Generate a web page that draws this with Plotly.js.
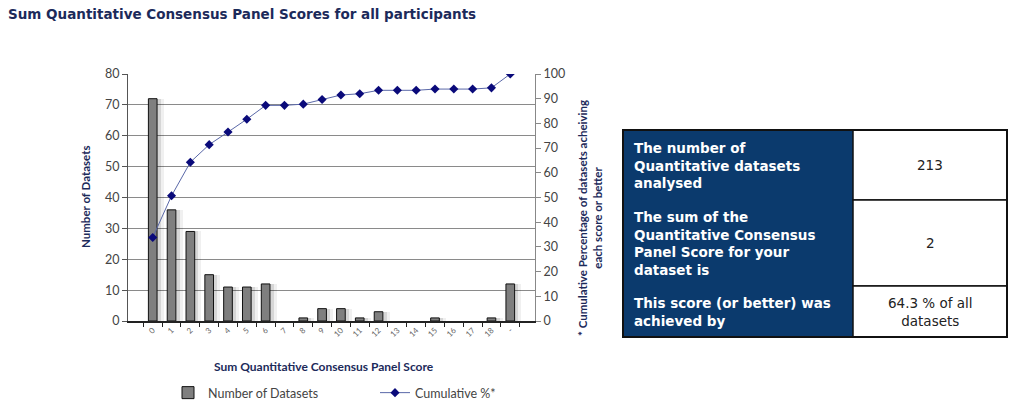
<!DOCTYPE html>
<html><head><meta charset="utf-8">
<script src="https://cdn.plot.ly/plotly-3.0.1.min.js"></script>
<style>html,body{margin:0;padding:0;background:#fff}#chart{width:1024px;height:412px}</style>
</head><body><div id="chart"></div>
<script>
// ---- data ----
const categories = ['0','1','2','3','4','5','6','7','8','9','10','11','12','13','14','15','16','17','18','-'];
const datasetCounts = [72,36,29,15,11,11,12,0,1,4,4,1,3,0,0,1,0,0,1,12];
const cumulativePct = [33.8,50.7,64.3,71.4,76.5,81.7,87.3,87.3,87.8,89.7,91.5,92.0,93.4,93.4,93.4,93.9,93.9,93.9,94.4,100];
const tableLabels = ['The number of<br>Quantitative datasets<br>analysed',
                     'The sum of the<br>Quantitative Consensus<br>Panel Score for your<br>dataset is',
                     'This score (or better) was<br>achieved by'];
const tableValues = ['213','2','64.3 % of all<br>datasets'];

// ---- geometry helpers (plot area in px) ----
const L=128, R=535, T=74, B=321;
const px = x => (x-L)/(R-L);
const py = y => (B-y)/(B-T);

const navy='#0b3a6d', titleCol='#1c2a5a';
const outlineW = datasetCounts.map(v => v > 0 ? 1 : 0);

const traces = [
  {type:'bar', x:categories, y:datasetCounts, width:0.2, offset:0.23, marker:{color:'rgba(0,0,0,0.16)', line:{width:0}}, showlegend:false, hoverinfo:'skip'},
  {type:'bar', x:categories, y:datasetCounts, width:0.16, offset:0.43, marker:{color:'rgba(0,0,0,0.06)', line:{width:0}}, showlegend:false, hoverinfo:'skip'},
  {type:'bar', name:'Number of Datasets', x:categories, y:datasetCounts, width:0.46, offset:-0.23, legend:'legend',
   marker:{color:'#7f7f7f', line:{color:'#111', width:outlineW}}},
  {type:'scatter', mode:'lines+markers', name:'Cumulative %*', x:categories, y:cumulativePct, yaxis:'y2', legend:'legend2',
   line:{color:'#5a68a8', width:1}, marker:{symbol:'diamond', size:7, color:'#0a0a7a'}}
];

const shapes = [];
const annotations = [];
// table
const tX0=623, tX1=1007, tXm=853, rows=[130,200,286,337];
shapes.push({type:'rect', xref:'paper', yref:'paper', x0:px(tX0), x1:px(tXm), y0:py(rows[3]), y1:py(rows[0]), fillcolor:navy, line:{width:0}});
for (let i=0;i<3;i++){
  shapes.push({type:'rect', xref:'paper', yref:'paper', x0:px(tXm), x1:px(tX1), y0:py(rows[i+1]), y1:py(rows[i]), fillcolor:'#fff', line:{color:'#111', width:1.5}});
  const yc = (rows[i]+rows[i+1])/2;
  annotations.push({xref:'paper', yref:'paper', x:px(tX0+9), y:py(yc), xanchor:'left', yanchor:'middle', align:'left', showarrow:false,
    text:'<b>'+tableLabels[i]+'</b>', font:{family:'DejaVu Sans', size:13.5, color:'#fff'}});
  annotations.push({xref:'paper', yref:'paper', x:px(930), y:py(yc), xanchor:'center', yanchor:'middle', align:'center', showarrow:false,
    text:tableValues[i], font:{family:'DejaVu Sans', size:13.5, color:'#222'}});
}
shapes.push({type:'rect', xref:'paper', yref:'paper', x0:px(tX0), x1:px(tX1), y0:py(rows[3]), y1:py(rows[0]), line:{color:'#111', width:2}});

// axis titles as annotations
annotations.push({xref:'paper', yref:'paper', x:px(85), y:py(197), textangle:-90, showarrow:false, xanchor:'center', yanchor:'middle',
  text:'<b>Number of Datasets</b>', font:{family:'Lato', size:11.5, color:titleCol}});
annotations.push({xref:'paper', yref:'paper', x:px(590), y:py(218), textangle:-90, showarrow:false, xanchor:'center', yanchor:'middle', align:'center',
  text:'<b>* Cumulative Percentage of datasets acheiving<br>each score or better</b>', font:{family:'Lato', size:11.5, color:titleCol}});
annotations.push({xref:'paper', yref:'paper', x:px(324), y:py(366), showarrow:false, xanchor:'center', yanchor:'middle',
  text:'<b>Sum Quantitative Consensus Panel Score</b>', font:{family:'Lato', size:12, color:titleCol}});

const legendFont = {family:'Lato', size:12.5, color:'#444'};
const layout = {
  width:1024, height:412,
  margin:{l:L, r:1024-R, t:T, b:412-B, autoexpand:false},
  paper_bgcolor:'#fff', plot_bgcolor:'#fff',
  barmode:'overlay', bargap:0,
  title:{text:'<b>Sum Quantitative Consensus Panel Scores for all participants</b>', x:8/1024, xref:'container', xanchor:'left',
         y:1-14/412, yref:'container', yanchor:'middle', font:{family:'DejaVu Sans', size:13.5, color:titleCol}},
  xaxis:{type:'category', tickangle:-45, tickson:'boundaries', ticks:'outside', ticklen:4, tickcolor:'#222',
         showline:true, linecolor:'#222', linewidth:1.5, showgrid:false, zeroline:false, automargin:false,
         tickfont:{family:'Lato', size:8, color:'#666'}},
  yaxis:{range:[0,80], dtick:10, ticks:'outside', ticklen:5, tickcolor:'#555', showline:true, linecolor:'#555', linewidth:1,
         gridcolor:'#8a8a8a', gridwidth:1, zeroline:false, automargin:false, tickfont:{family:'Lato', size:12.5, color:'#444'}},
  yaxis2:{range:[0,100], dtick:10, overlaying:'y', side:'right', ticks:'outside', ticklen:5, tickcolor:'#888',
          showline:true, linecolor:'#888', linewidth:1, showgrid:false, zeroline:false, automargin:false,
          tickfont:{family:'Lato', size:12.5, color:'#444'}},
  legend:{orientation:'h', xref:'container', yref:'container', x:168/1024, xanchor:'left', y:1-393/412, yanchor:'middle',
          font:legendFont, bgcolor:'rgba(0,0,0,0)'},
  legend2:{orientation:'h', xref:'container', yref:'container', x:375/1024, xanchor:'left', y:1-393/412, yanchor:'middle',
          font:legendFont, bgcolor:'rgba(0,0,0,0)'},
  shapes:shapes, annotations:annotations, showlegend:true
};
Plotly.newPlot('chart', traces, layout, {displayModeBar:false, staticPlot:true});
</script></body></html>
